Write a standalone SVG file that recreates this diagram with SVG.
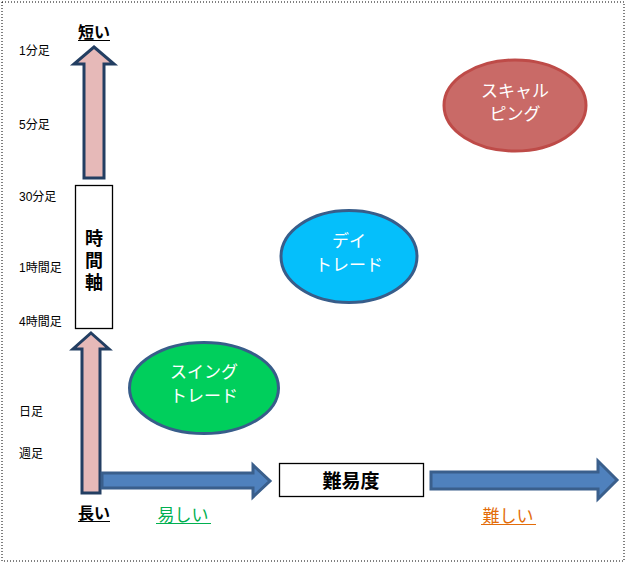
<svg xmlns="http://www.w3.org/2000/svg" width="630" height="565" viewBox="0 0 630 565">
<style>
text{font-family:"Liberation Sans","Noto Sans CJK JP",sans-serif;}
.lbl{font-size:12px;fill:#000;}
.ax{font-size:16px;font-weight:bold;fill:#000;text-anchor:middle;}
.ell{font-size:17px;fill:#fff;text-anchor:middle;}
.varr{fill:#E6B9B8;stroke:#233E62;stroke-width:3;stroke-linejoin:miter;}
.harr{fill:#4F81BD;stroke:#3A5F8C;stroke-width:3;stroke-linejoin:miter;}
.box{fill:#fff;stroke:#000;stroke-width:1.3;}
</style>
<rect x="0" y="0" width="630" height="565" fill="#fff"/>
<rect x="2" y="2" width="622" height="559" fill="none" stroke="#000" stroke-width="1" stroke-dasharray="1,2"/>

<g id="connectors">
<polygon class="varr" points="94,47 114,64 104,64 104,178 84,178 84,64 74,64"/>
<polygon class="varr" points="91,333 109,349 100,349 100,493 82,493 82,349 73,349"/>
<polygon class="harr" points="102,473 253,473 253,465 270,481 253,497 253,488 102,488"/>
<polygon class="harr" points="431,472 598,472 598,461 617,480 598,499 598,489 431,489"/>
</g>

<g id="time-labels">
<text class="lbl" x="19" y="55">1分足</text>
<text class="lbl" x="19" y="129">5分足</text>
<text class="lbl" x="19" y="201">30分足</text>
<text class="lbl" x="19" y="272">1時間足</text>
<text class="lbl" x="19" y="326">4時間足</text>
<text class="lbl" x="19" y="416">日足</text>
<text class="lbl" x="19" y="458">週足</text>
</g>

<g id="short">
<text class="ax" x="94" y="38">短い</text>
<line x1="78" y1="40.5" x2="110" y2="40.5" stroke="#000" stroke-width="1"/>
</g>
<g id="long">
<text class="ax" x="94" y="519">長い</text>
<line x1="78" y1="521.5" x2="110" y2="521.5" stroke="#000" stroke-width="1"/>
</g>

<g id="time-axis">
<rect class="box" x="75.5" y="185.5" width="37" height="143"/>
<text x="94" y="245" font-size="18" font-weight="bold" text-anchor="middle">時</text>
<text x="94" y="267" font-size="18" font-weight="bold" text-anchor="middle">間</text>
<text x="94" y="289" font-size="18" font-weight="bold" text-anchor="middle">軸</text>
</g>

<g id="difficulty">
<rect class="box" x="279.5" y="463.5" width="144" height="33"/>
<text x="351" y="487.5" font-size="19" font-weight="bold" text-anchor="middle">難易度</text>
</g>

<g id="easy">
<text x="183" y="521" font-size="17" fill="#00B050" text-anchor="middle">易しい</text>
<line x1="156" y1="523.5" x2="211" y2="523.5" stroke="#00B050" stroke-width="1"/>
</g>
<g id="hard">
<text x="508" y="521.5" font-size="17" fill="#E36C09" text-anchor="middle">難しい</text>
<line x1="481" y1="524.5" x2="536" y2="524.5" stroke="#E36C09" stroke-width="1"/>
</g>

<g id="scalping">
<ellipse cx="515" cy="105.5" rx="71" ry="45.5" fill="#C96A67" stroke="#BE4B48" stroke-width="3"/>
<text class="ell" x="515" y="97">スキャル</text>
<text class="ell" x="515" y="120">ピング</text>
</g>

<g id="daytrade">
<ellipse cx="349" cy="256.5" rx="68" ry="46" fill="#05BFFB" stroke="#385D8A" stroke-width="3"/>
<text class="ell" x="349" y="247">デイ</text>
<text class="ell" x="349" y="271">トレード</text>
</g>

<g id="swing">
<ellipse cx="204" cy="388" rx="74.5" ry="45.5" fill="#00CF5C" stroke="#385D8A" stroke-width="3"/>
<text class="ell" x="204" y="378">スイング</text>
<text class="ell" x="204" y="402">トレード</text>
</g>
</svg>
